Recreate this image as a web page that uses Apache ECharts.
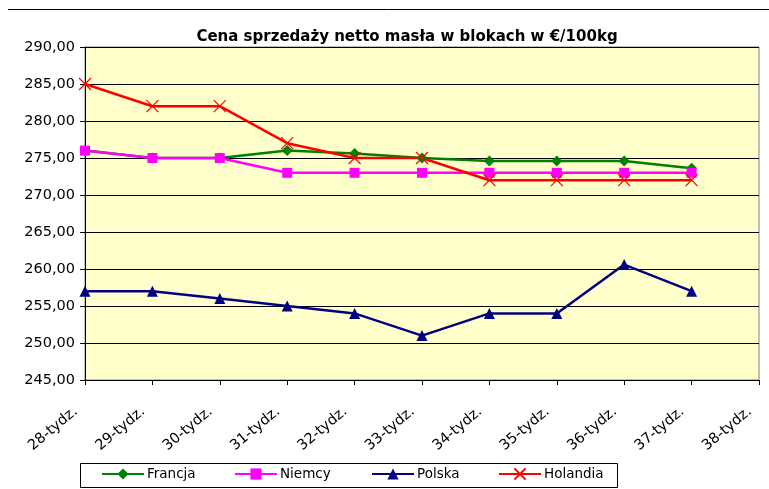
<!DOCTYPE html>
<html><head><meta charset="utf-8">
<script src="https://cdn.jsdelivr.net/npm/echarts@6/dist/echarts.min.js"></script>
<style>html,body{margin:0;padding:0;background:#fff}#c{width:769px;height:489px}</style>
</head><body><div id="c"></div>
<script>
const categories = ['28-tydz.','29-tydz.','30-tydz.','31-tydz.','32-tydz.','33-tydz.','34-tydz.','35-tydz.','36-tydz.','37-tydz.','38-tydz.'];
const francja  = [276, 275, 275, 276, 275.6, 275, 274.6, 274.6, 274.6, 273.6, null];
const niemcy   = [276, 275, 275, 273, 273, 273, 273, 273, 273, 273, null];
const polska   = [257, 257, 256, 255, 254, 251, 254, 254, 260.6, 257, null];
const holandia = [285, 282, 282, 277, 275, 275, 272, 272, 272, 272, null];
const seriesNames = ['Francja','Niemcy','Polska','Holandia'];
const titleText = 'Cena sprzedaży netto masła w blokach w €/100kg';

const FONT = '"DejaVu Sans", sans-serif';
const chart = echarts.init(document.getElementById('c'), null, {renderer:'canvas'});
const crossPath = 'path://M0,0L10,10M10,0L0,10';
function mk(name, data, color, symbol, size, extra) {
  return Object.assign({
    name, type:'line', data, symbol, symbolSize:size, showAllSymbol:true,
    lineStyle:{color, width:2.5}, itemStyle:{color, borderColor:color, borderWidth:0},
    connectNulls:false, z:3
  }, extra||{});
}
const legendLefts = [101, 234, 371, 498];
const legends = seriesNames.map((n,i)=>({
  data:[n], left:legendLefts[i], top:467, padding:0, itemWidth:42, itemHeight:14, itemGap:0,
  textStyle:{fontFamily:FONT, fontSize:13.5, color:'#000', padding:[0,0,0,-2]}
}));
chart.setOption({
  animation:false,
  title:{text:titleText, left:402, textAlign:'center', top:25,
    textStyle:{fontFamily:FONT, fontWeight:'bold', fontSize:15, color:'#000'}},
  graphic:[
    {type:'line', shape:{x1:8,y1:9.5,x2:769,y2:9.5}, style:{stroke:'#000', lineWidth:1}},
    {type:'rect', shape:{x:80.5,y:463.5,width:537,height:24}, style:{fill:'none', stroke:'#000', lineWidth:1}, z:-1}
  ],
  grid:{left:85, right:10, top:47, bottom:109, show:true, backgroundColor:'#FFFFCC', borderColor:'#808080', borderWidth:1},
  legend:legends,
  xAxis:{type:'category', data:categories, boundaryGap:false,
    axisLine:{lineStyle:{color:'#000'}},
    axisTick:{show:true, alignWithLabel:true, length:5, lineStyle:{color:'#000'}},
    axisLabel:{rotate:40, interval:0, fontFamily:FONT, fontSize:14.5, color:'#000', margin:22, padding:[0,12,0,0]},
    splitLine:{show:false}},
  yAxis:{type:'value', min:245, max:290, interval:5,
    axisLine:{show:true, lineStyle:{color:'#000'}},
    axisTick:{show:true, length:5, lineStyle:{color:'#000'}},
    axisLabel:{fontFamily:FONT, fontSize:14.5, color:'#000', margin:10,
      formatter:v=>v.toFixed(2).replace('.',',')},
    splitLine:{show:true, lineStyle:{color:'#000', width:1}}},
  series:[
    mk('Francja', francja, '#008000', 'diamond', 11),
    mk('Niemcy', niemcy, '#FF00FF', 'rect', 10),
    mk('Polska', polska, '#000080', 'triangle', 11),
    mk('Holandia', holandia, '#FF0000', crossPath, 12, {itemStyle:{color:'#FF0000', borderColor:'#FF0000', borderWidth:1.2}})
  ]
});
</script></body></html>
